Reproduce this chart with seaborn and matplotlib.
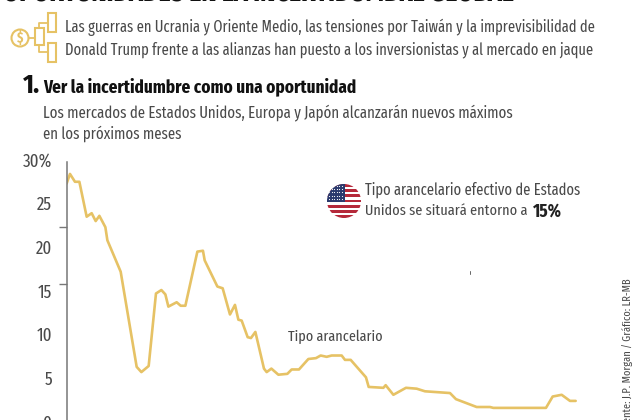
import matplotlib
matplotlib.use("Agg")
import matplotlib.pyplot as plt
from matplotlib import font_manager as fm
from matplotlib.transforms import ScaledTranslation
import numpy as np
import pandas as pd
import seaborn as sns
from matplotlib.patches import Rectangle, Circle

months = [0, 3.3, 8.3, 12.7, 20, 25, 29, 32.7, 38.7, 40.7, 54, 70, 74.7, 82, 89.3, 94.7, 98.7, 101.7, 110, 114,
          118.7, 130.7, 136.3, 138, 150.7, 156, 163.3, 168.3, 171.7, 175, 181, 184.3, 188.7, 197.3, 200, 204.7,
          211.7, 220.7, 225, 232.3, 241.7, 249.3, 254, 260, 265, 275, 278.3, 284, 299.3, 302, 316.7, 319, 326.7,
          339.3, 350, 358.3, 383.3, 389.3, 410, 423.3, 426.7, 479.3, 486, 495, 503.3, 509]
tariff = [27.5, 28.6, 27.7, 27.7, 23.7, 24.1, 23.2, 23.8, 22.5, 21.0, 17.4, 6.5, 5.9, 6.6, 14.9, 15.3, 14.8, 13.4,
          13.9, 13.5, 13.5, 19.7, 19.8, 18.7, 15.7, 15.5, 12.5, 13.6, 11.9, 11.8, 9.9, 9.8, 10.5, 6.3, 5.9, 6.3,
          5.6, 5.7, 6.2, 6.2, 7.4, 7.5, 7.8, 7.65, 7.8, 7.8, 7.3, 7.3, 5.3, 4.2, 4.1, 4.4, 3.3, 4.1, 4.0, 3.7,
          3.5, 2.8, 1.9, 1.9, 1.8, 1.8, 3.1, 3.3, 2.6, 2.6]
y_ticks = [0, 5, 10, 15, 20, 25, 30]
y_labels = ["0", "5", "10", "15", "20", "25", "30%"]
stray_ticks = [5, 10, 15, 16, 22.5, 30]

TITLE = "OPORTUNIDADES EN LA INCERTIDUMBRE GLOBAL"
INTRO = ["Las guerras en Ucrania y Oriente Medio, las tensiones por Taiwán y la imprevisibilidad de",
         "Donald Trump frente a las alianzas han puesto a los inversionistas y al mercado en jaque"]
HEAD = "Ver la incertidumbre como una oportunidad"
SUB = ["Los mercados de Estados Unidos, Europa y Japón alcanzarán nuevos máximos", "en los próximos meses"]
NOTE = ["Tipo arancelario efectivo de Estados", "Unidos se situará entorno a ", "15%"]
SOURCE = "Fuente: J.P. Morgan / Gráfico: LR-MB"
SERIES = "Tipo arancelario"

names = {f.name for f in fm.fontManager.ttflist}
narrow = next((n for n in ["Fira Sans Extra Condensed", "PT Sans Narrow", "Open Sans Condensed", "Roboto Condensed",
                           "Archivo Narrow", "Liberation Sans"] if n in names), "DejaVu Sans")

sns.set_theme(style="white")
plt.rcParams["font.family"] = [narrow, "DejaVu Sans"]

GOLD = "#E6C265"
GREY = "#4a4a4a"
W, H = 640, 420
fig = plt.figure(figsize=(6.4, 4.2), dpi=100, facecolor="white")
ax = fig.add_axes([66.67 / W, -3.6 / H, (W - 66.67) / W, 261.9 / H])
df = pd.DataFrame({"m": months, "t": tariff})
sns.lineplot(data=df, x="m", y="t", ax=ax, color=GOLD, lw=1.9, errorbar=None)
ax.set_xlim(0, W - 66.67)
ax.set_ylim(0, 30)
ax.set_xlabel("")
ax.set_ylabel("")
ax.set_xticks([])

renderer = fig.canvas.get_renderer()

def T(x, y, s, width=None, **k):
    k.setdefault("color", GREY)
    k.setdefault("va", "center")
    t = fig.text(x / W, 1 - y / H, s, **k)
    if width:
        bb = t.get_window_extent(renderer)
        size = max(bb.width, bb.height) if k.get("rotation") else bb.width
        t.set_fontsize(t.get_fontsize() * width / size)
    return t

probe = T(0, 0, y_labels[-1], width=29)
tick_size = probe.get_fontsize()
probe.remove()

ax.set_yticks(y_ticks, y_labels)
ax.set_yticks(stray_ticks, minor=True)
ax.tick_params(axis="y", which="major", length=0, pad=10.5, labelsize=tick_size, labelcolor=GREY)
ax.tick_params(axis="y", which="minor", length=6, width=1, color="#777777", left=True)
nudge = ScaledTranslation(0, 2 / 100, fig.dpi_scale_trans)
for lab in ax.get_yticklabels():
    lab.set_transform(lab.get_transform() + nudge)
for s in ["top", "right", "bottom"]:
    ax.spines[s].set_visible(False)
ax.spines["left"].set_color("#777777")
ax.spines["left"].set_linewidth(1.1)
ax.patch.set_alpha(0)

T(3, 2, TITLE, width=512, fontweight="bold", color="#111111", va="baseline")
T(65, 27, INTRO[0], width=532)
T(65, 50, INTRO[1], width=530)
T(23, 85, "1.", width=17, fontweight="bold", color="#111111")
T(43, 87, HEAD, width=312, fontweight="bold", color="#111111")
T(43, 113, SUB[0], width=470)
T(43, 134, SUB[1], width=138)
T(365, 190, NOTE[0], width=216)
T(365, 211, NOTE[1].strip(), width=162)
T(533, 211, NOTE[2], width=29, fontweight="bold", color="#222222")
T(288, 337, SERIES, width=95)
T(628, 278, SOURCE, width=152, rotation=90, ha="center", va="top")

ov = fig.add_axes([0, 0, 1, 1], zorder=5)
ov.set_xlim(0, W)
ov.set_ylim(H, 0)
ov.axis("off")
kw = dict(fill=False, ec=GOLD, lw=1.5)
ov.add_patch(Rectangle((48, 13), 8, 19, **kw))
ov.add_patch(Rectangle((48, 43), 8, 19, **kw))
ov.add_patch(Rectangle((35, 28), 9, 17, **kw))
ov.add_patch(Circle((20, 38), 8.5, **kw))
ov.plot([28.5, 35], [38, 38], color=GOLD, lw=1.3)
ov.plot([39, 39, 47], [28, 23, 23], color=GOLD, lw=1.3)
ov.plot([39, 39, 47], [45, 52, 52], color=GOLD, lw=1.3)
ov.text(20, 38, "$", color=GOLD, fontsize=10, ha="center", va="center", fontweight="bold")

cx, cy, r = 344, 201, 17
clip = Circle((cx, cy), r, transform=ov.transData, fc="white", ec="none")
ov.add_patch(clip)
for i in range(13):
    h = 2 * r / 13
    p = Rectangle((cx - r, cy - r + i * h), 2 * r, h, fc="#B5293A" if i % 2 == 0 else "white", ec="none")
    ov.add_patch(p)
    p.set_clip_path(clip)
canton = Rectangle((cx - r, cy - r), r * 1.05, r * 1.05, fc="#2B3A6E", ec="none")
ov.add_patch(canton)
canton.set_clip_path(clip)
for row in range(5):
    sx = np.arange(cx - r + 2, cx + 0.5, 2.6)
    sc = ov.scatter(sx, np.full_like(sx, cy - r + 2 + row * 3.2), s=0.7, color="white", lw=0)
    sc.set_clip_path(clip)
ov.plot([469.5, 469.5], [271, 274], color="#666666", lw=0.7)

fig.savefig("out.png", dpi=100, facecolor="white")
